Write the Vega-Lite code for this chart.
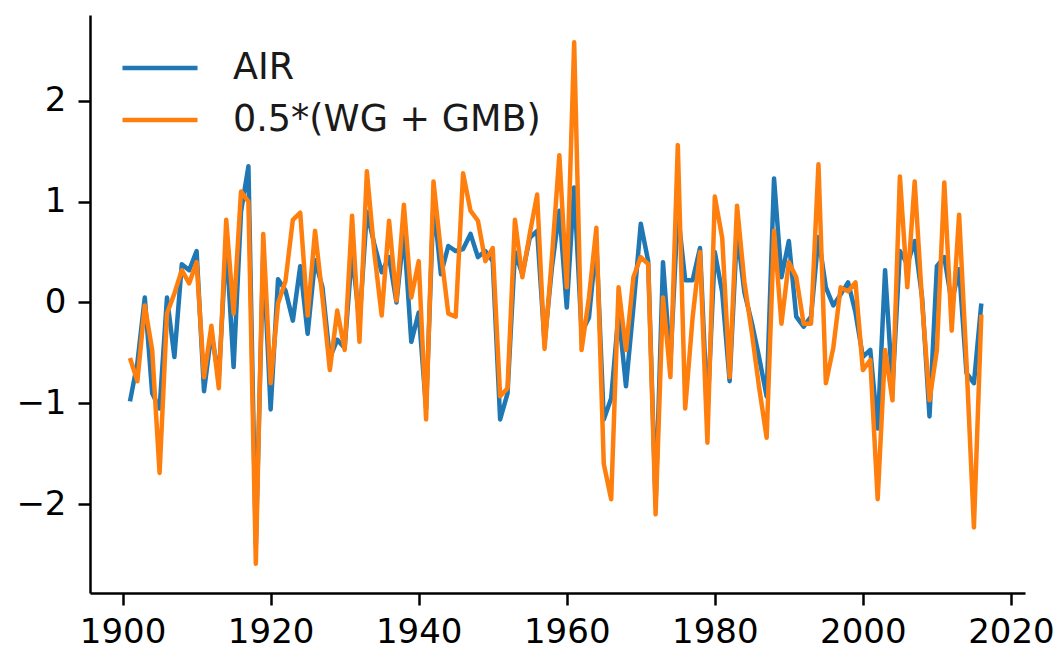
{
  "$schema": "https://vega.github.io/schema/vega-lite/v6.json",
  "width": 935,
  "height": 578,
  "autosize": "none",
  "padding": {"left": 90, "top": 15, "right": 30, "bottom": 60},
  "background": "white",
  "config": {
    "view": {"stroke": null},
    "font": "DejaVu Sans",
    "axis": {
      "grid": false,
      "domainColor": "black",
      "domainWidth": 2.5,
      "tickColor": "black",
      "tickWidth": 2.5,
      "tickSize": 12,
      "labelFont": "DejaVu Sans",
      "labelFontSize": 34,
      "labelColor": "black",
      "title": null
    }
  },
  "data": {
    "values": [
      {"year": 1901, "AIR": -0.98, "WGGMB": -0.55},
      {"year": 1902, "AIR": -0.60, "WGGMB": -0.78},
      {"year": 1903, "AIR": 0.05, "WGGMB": -0.03},
      {"year": 1904, "AIR": -0.90, "WGGMB": -0.47},
      {"year": 1905, "AIR": -1.05, "WGGMB": -1.69},
      {"year": 1906, "AIR": 0.05, "WGGMB": -0.11},
      {"year": 1907, "AIR": -0.54, "WGGMB": 0.09},
      {"year": 1908, "AIR": 0.38, "WGGMB": 0.32},
      {"year": 1909, "AIR": 0.32, "WGGMB": 0.19},
      {"year": 1910, "AIR": 0.51, "WGGMB": 0.40},
      {"year": 1911, "AIR": -0.88, "WGGMB": -0.74},
      {"year": 1912, "AIR": -0.30, "WGGMB": -0.23},
      {"year": 1913, "AIR": -0.75, "WGGMB": -0.85},
      {"year": 1914, "AIR": 0.60, "WGGMB": 0.82},
      {"year": 1915, "AIR": -0.64, "WGGMB": -0.11},
      {"year": 1916, "AIR": 0.90, "WGGMB": 1.10},
      {"year": 1917, "AIR": 1.35, "WGGMB": 1.00},
      {"year": 1918, "AIR": -2.40, "WGGMB": -2.59},
      {"year": 1919, "AIR": 0.50, "WGGMB": 0.68},
      {"year": 1920, "AIR": -1.06, "WGGMB": -0.80},
      {"year": 1921, "AIR": 0.23, "WGGMB": -0.01},
      {"year": 1922, "AIR": 0.12, "WGGMB": 0.21},
      {"year": 1923, "AIR": -0.18, "WGGMB": 0.82},
      {"year": 1924, "AIR": 0.36, "WGGMB": 0.89},
      {"year": 1925, "AIR": -0.31, "WGGMB": -0.13},
      {"year": 1926, "AIR": 0.42, "WGGMB": 0.71},
      {"year": 1927, "AIR": 0.15, "WGGMB": 0.05},
      {"year": 1928, "AIR": -0.55, "WGGMB": -0.67},
      {"year": 1929, "AIR": -0.37, "WGGMB": -0.08},
      {"year": 1930, "AIR": -0.45, "WGGMB": -0.47},
      {"year": 1931, "AIR": 0.50, "WGGMB": 0.86},
      {"year": 1932, "AIR": -0.20, "WGGMB": -0.39},
      {"year": 1933, "AIR": 0.90, "WGGMB": 1.30},
      {"year": 1934, "AIR": 0.58, "WGGMB": 0.50},
      {"year": 1935, "AIR": 0.30, "WGGMB": -0.13},
      {"year": 1936, "AIR": 0.45, "WGGMB": 0.81},
      {"year": 1937, "AIR": 0.00, "WGGMB": 0.02},
      {"year": 1938, "AIR": 0.70, "WGGMB": 0.97},
      {"year": 1939, "AIR": -0.39, "WGGMB": 0.05},
      {"year": 1940, "AIR": -0.10, "WGGMB": 0.41},
      {"year": 1941, "AIR": -1.05, "WGGMB": -1.16},
      {"year": 1942, "AIR": 1.00, "WGGMB": 1.20},
      {"year": 1943, "AIR": 0.28, "WGGMB": 0.50},
      {"year": 1944, "AIR": 0.56, "WGGMB": -0.11},
      {"year": 1945, "AIR": 0.51, "WGGMB": -0.14},
      {"year": 1946, "AIR": 0.53, "WGGMB": 1.28},
      {"year": 1947, "AIR": 0.68, "WGGMB": 0.91},
      {"year": 1948, "AIR": 0.45, "WGGMB": 0.81},
      {"year": 1949, "AIR": 0.51, "WGGMB": 0.41},
      {"year": 1950, "AIR": 0.41, "WGGMB": 0.54},
      {"year": 1951, "AIR": -1.16, "WGGMB": -0.93},
      {"year": 1952, "AIR": -0.90, "WGGMB": -0.85},
      {"year": 1953, "AIR": 0.50, "WGGMB": 0.82},
      {"year": 1954, "AIR": 0.28, "WGGMB": 0.25},
      {"year": 1955, "AIR": 0.64, "WGGMB": 0.68},
      {"year": 1956, "AIR": 0.71, "WGGMB": 1.07},
      {"year": 1957, "AIR": -0.40, "WGGMB": -0.46},
      {"year": 1958, "AIR": 0.35, "WGGMB": 0.45},
      {"year": 1959, "AIR": 0.91, "WGGMB": 1.46},
      {"year": 1960, "AIR": -0.05, "WGGMB": 0.15},
      {"year": 1961, "AIR": 1.14, "WGGMB": 2.58},
      {"year": 1962, "AIR": -0.30, "WGGMB": -0.47},
      {"year": 1963, "AIR": -0.15, "WGGMB": 0.05},
      {"year": 1964, "AIR": 0.60, "WGGMB": 0.74},
      {"year": 1965, "AIR": -1.16, "WGGMB": -1.60},
      {"year": 1966, "AIR": -0.95, "WGGMB": -1.95},
      {"year": 1967, "AIR": -0.10, "WGGMB": 0.15},
      {"year": 1968, "AIR": -0.83, "WGGMB": -0.47},
      {"year": 1969, "AIR": -0.05, "WGGMB": 0.25},
      {"year": 1970, "AIR": 0.78, "WGGMB": 0.45},
      {"year": 1971, "AIR": 0.41, "WGGMB": 0.38},
      {"year": 1972, "AIR": -2.00, "WGGMB": -2.10},
      {"year": 1973, "AIR": 0.40, "WGGMB": 0.05},
      {"year": 1974, "AIR": -0.60, "WGGMB": -0.74},
      {"year": 1975, "AIR": 0.90, "WGGMB": 1.56},
      {"year": 1976, "AIR": 0.22, "WGGMB": -1.05},
      {"year": 1977, "AIR": 0.22, "WGGMB": -0.15},
      {"year": 1978, "AIR": 0.54, "WGGMB": 0.50},
      {"year": 1979, "AIR": -1.10, "WGGMB": -1.39},
      {"year": 1980, "AIR": 0.50, "WGGMB": 1.05},
      {"year": 1981, "AIR": 0.10, "WGGMB": 0.64},
      {"year": 1982, "AIR": -0.78, "WGGMB": -0.74},
      {"year": 1983, "AIR": 0.70, "WGGMB": 0.96},
      {"year": 1984, "AIR": 0.10, "WGGMB": 0.20},
      {"year": 1985, "AIR": -0.20, "WGGMB": -0.30},
      {"year": 1986, "AIR": -0.55, "WGGMB": -0.85},
      {"year": 1987, "AIR": -0.93, "WGGMB": -1.34},
      {"year": 1988, "AIR": 1.23, "WGGMB": 0.71},
      {"year": 1989, "AIR": 0.25, "WGGMB": -0.21},
      {"year": 1990, "AIR": 0.61, "WGGMB": 0.40},
      {"year": 1991, "AIR": -0.14, "WGGMB": 0.25},
      {"year": 1992, "AIR": -0.24, "WGGMB": -0.21},
      {"year": 1993, "AIR": -0.14, "WGGMB": -0.21},
      {"year": 1994, "AIR": 0.65, "WGGMB": 1.37},
      {"year": 1995, "AIR": 0.15, "WGGMB": -0.80},
      {"year": 1996, "AIR": -0.03, "WGGMB": -0.45},
      {"year": 1997, "AIR": 0.08, "WGGMB": 0.15},
      {"year": 1998, "AIR": 0.20, "WGGMB": 0.11},
      {"year": 1999, "AIR": -0.10, "WGGMB": 0.20},
      {"year": 2000, "AIR": -0.54, "WGGMB": -0.67},
      {"year": 2001, "AIR": -0.47, "WGGMB": -0.57},
      {"year": 2002, "AIR": -1.25, "WGGMB": -1.95},
      {"year": 2003, "AIR": 0.32, "WGGMB": -0.47},
      {"year": 2004, "AIR": -0.85, "WGGMB": -0.97},
      {"year": 2005, "AIR": 0.51, "WGGMB": 1.25},
      {"year": 2006, "AIR": 0.38, "WGGMB": 0.15},
      {"year": 2007, "AIR": 0.61, "WGGMB": 1.20},
      {"year": 2008, "AIR": 0.05, "WGGMB": 0.00},
      {"year": 2009, "AIR": -1.13, "WGGMB": -0.97},
      {"year": 2010, "AIR": 0.36, "WGGMB": -0.47},
      {"year": 2011, "AIR": 0.45, "WGGMB": 1.19},
      {"year": 2012, "AIR": 0.00, "WGGMB": -0.28},
      {"year": 2013, "AIR": 0.33, "WGGMB": 0.87},
      {"year": 2014, "AIR": -0.70, "WGGMB": -0.60},
      {"year": 2015, "AIR": -0.80, "WGGMB": -2.23},
      {"year": 2016, "AIR": -0.01, "WGGMB": -0.12}
    ]
  },
  "transform": [
    {"fold": ["AIR", "WGGMB"], "as": ["series", "value"]}
  ],
  "mark": {"type": "line", "strokeWidth": 4.5, "strokeJoin": "round", "strokeCap": "butt"},
  "encoding": {
    "x": {
      "field": "year",
      "type": "quantitative",
      "scale": {"domain": [1895.6, 2021.9], "nice": false, "zero": false},
      "axis": {"values": [1900, 1920, 1940, 1960, 1980, 2000, 2020], "format": "d", "labelPadding": 10, "labelFlush": false}
    },
    "y": {
      "field": "value",
      "type": "quantitative",
      "scale": {"domain": [-2.88, 2.85], "nice": false, "zero": false},
      "axis": {"values": [-2, -1, 0, 1, 2], "format": "d", "labelPadding": 12, "labelFlush": false}
    },
    "color": {
      "field": "series",
      "type": "nominal",
      "scale": {"domain": ["AIR", "WGGMB"], "range": ["#1f77b4", "#ff7f0e"]},
      "legend": {
        "title": null,
        "orient": "none",
        "legendX": 30,
        "legendY": 27,
        "padding": 0,
        "symbolType": "stroke",
        "symbolSize": 5625,
        "symbolStrokeWidth": 4.5,
        "clipHeight": 52,
        "rowPadding": 0,
        "labelOffset": 33,
        "labelFont": "DejaVu Sans",
        "labelFontSize": 36.5,
        "labelColor": "#1a1a1a",
        "labelLimit": 700,
        "labelExpr": "datum.label == 'AIR' ? 'AIR' : '0.5*(WG + GMB)'"
      }
    }
  }
}
